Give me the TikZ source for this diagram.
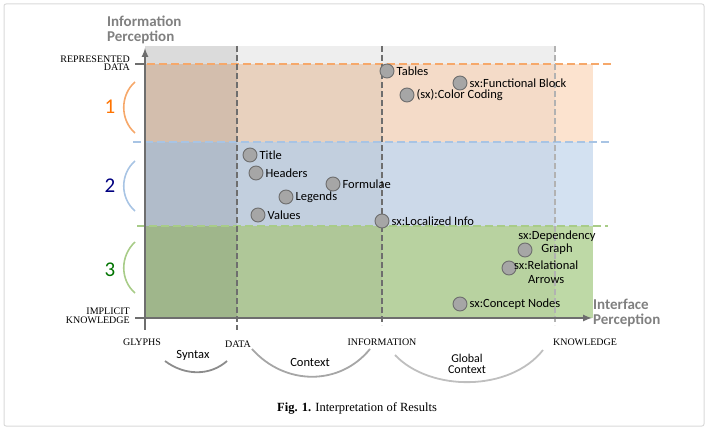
\documentclass[tikz,border=0pt]{standalone}
\usepackage{fontspec}
\setmainfont{Liberation Serif}
\newfontfamily\calib{Carlito}
\usetikzlibrary{positioning}
\definecolor{orng}{HTML}{F6A86A}
\definecolor{blu}{HTML}{A8C4E4}
\definecolor{grn}{HTML}{A8CC88}
\definecolor{axisgray}{HTML}{6E6E6E}
\begin{document}
\begin{tikzpicture}
        [x=1pt,y=-1pt,
         dot/.style={draw=axisgray,fill=gray!70,circle,inner sep=0,minimum size=14pt,line width=0.9pt},
         lab/.style={font=\calib\fontsize{12.5}{12}\selectfont,inner sep=1pt,align=left},
         tick/.style={font=\fontsize{10}{8.5}\selectfont,align=right,inner sep=1pt},
         title/.style={font=\calib\bfseries\fontsize{15}{15.5}\selectfont,text=gray,align=left,anchor=west,inner sep=0},
         level/.style={font=\calib\fontsize{21}{21}\selectfont},
         vdash/.style={axisgray,dash pattern=on 6pt off 3pt,line width=1.3pt},
         hdash/.style={dash pattern=on 8pt off 4pt,line width=1.6pt},
         arc/.style={line width=1.8pt,gray!70}]

        \useasboundingbox (0,0) rectangle (715,433);
        \draw[gray!30,line width=1pt,rounded corners=2pt] (4,4) rectangle (704,426);

        % bands
        \fill[gray!28] (145,46) rectangle (237,64);
        \fill[gray!13] (237,46) rectangle (555,64);
        \fill[orng!32] (145,64) rectangle (593,142);
        \fill[blu!50] (145,142) rectangle (593,226);
        \fill[grn!75] (145,226) rectangle (593,318);
        \fill[black,opacity=0.16] (145,64) rectangle (237,318);
        \fill[black,opacity=0.08] (237,64) rectangle (382,318);
        \fill[black,opacity=0.03] (382,64) rectangle (555,318);

        \draw[orng,hdash] (135,64) -- (612,64);
        \draw[blu,hdash] (133,142) -- (610,142);
        \draw[grn,hdash] (137,226) -- (608,226);

        \draw[vdash] (237,46) -- (237,330);
        \draw[vdash] (382,46) -- (382,325);
        \draw[vdash,gray!60] (555,46) -- (555,325);

        % axes
        \coordinate (o) at (145,318);
        \coordinate (ytip) at (145,48);
        \coordinate (xtip) at (592,318);
        \draw[axisgray,line width=2pt,-latex] (o) -- (ytip);
        \draw[axisgray,line width=2pt,-latex] (o) -- (xtip);
        \draw[axisgray,line width=1.5pt] (135,64) -- (145,64) (135,318) -- (145,318) (145,318) -- (145,330);

        \node[title] (ytitle) at (107,30) {Information\\Perception};
        \node[title] (xtitle) at (593,313) {Interface\\Perception};

        \node[tick,anchor=east] (rd) at (131,63) {REPRESENTED\\DATA};
        \node[tick,anchor=east] (ik) at (131,316) {IMPLICIT\\KNOWLEDGE};
        \node[tick] (glyphs) at (142,342) {GLYPHS};
        \node[tick] (data) at (238,344) {DATA};
        \node[tick] (info) at (382,342) {INFORMATION};
        \node[tick] (know) at (585,342) {KNOWLEDGE};

        % levels
        \node[level,text=orange!90!red] (l1) at (110,107) {1};
        \node[level,text=blue!50!black] (l2) at (110,186) {2};
        \node[level,text=green!45!black] (l3) at (110,270) {3};
        \draw[orng,line width=1.6pt] (135,82) .. controls (120,95) and (120,120) .. (135,133);
        \draw[blu,line width=1.6pt] (135,161) .. controls (120,174) and (120,198) .. (135,211);
        \draw[grn,line width=1.6pt] (135,242) .. controls (120,256) and (120,280) .. (135,293);

        % bottom arcs
        \draw[arc,gray!90] (165,361) .. controls (185,376) and (210,376) .. (227,361);
        \draw[arc] (252,349) .. controls (285,386) and (340,386) .. (370,349);
        \draw[arc,gray!50] (395,355) .. controls (430,392) and (510,392) .. (543,350);
        \node[lab] (syntax) at (193,355) {Syntax};
        \node[lab] (context) at (310,362) {Context};
        \node[lab,align=center,font=\calib\fontsize{12}{11}\selectfont] (global) at (467,364) {Global\\Context};

        % items
        \node[dot] (tables) at (387,71) {};
        \node[lab,right=1pt of tables] {Tables};
        \node[dot] (fblock) at (460,83) {};
        \node[lab,right=1pt of fblock] {sx:Functional Block};
        \node[dot] (color) at (407,95) {};
        \node[lab,right=1pt of color] {(sx):Color Coding};
        \node[dot] (title) at (250,155) {};
        \node[lab,right=1pt of title] {Title};
        \node[dot] (headers) at (256,173) {};
        \node[lab,right=1pt of headers] {Headers};
        \node[dot] (formulae) at (333,184) {};
        \node[lab,right=1pt of formulae] {Formulae};
        \node[dot] (legends) at (286,197) {};
        \node[lab,right=1pt of legends] {Legends};
        \node[dot] (values) at (258,215) {};
        \node[lab,right=1pt of values] {Values};
        \node[dot] (local) at (382,221) {};
        \node[lab,right=1pt of local] {sx:Localized Info};
        \node[dot] (depend) at (525,250) {};
        \node[lab,align=center,anchor=south,font=\calib\fontsize{12.5}{13.5}\selectfont] at (557,256) {sx:Dependency\\Graph};
        \node[dot] (relat) at (509,268) {};
        \node[lab,align=center,anchor=north west,font=\calib\fontsize{12.5}{13.5}\selectfont] at (513,260) {sx:Relational\\Arrows};
        \node[dot] (concept) at (460,304) {};
        \node[lab,right=1pt of concept] {sx:Concept Nodes};

        \node[font=\fontsize{12.5}{12}\selectfont] (caption) at (357,408) {\textbf{Fig. 1.} Interpretation of Results};
      \end{tikzpicture}
\end{document}
